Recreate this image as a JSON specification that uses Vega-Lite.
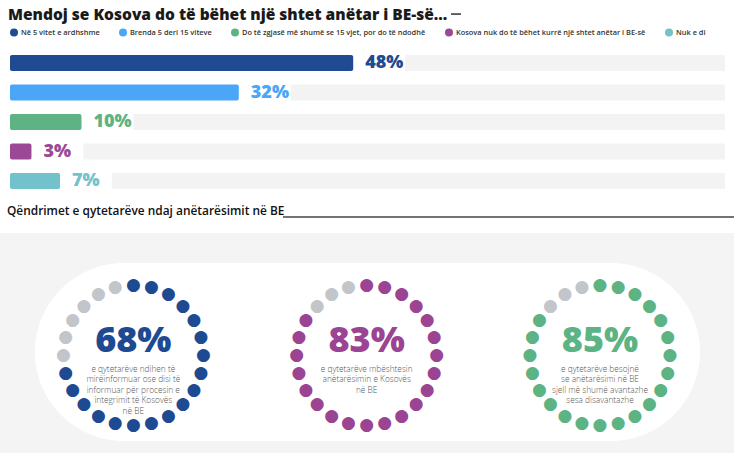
{
  "$schema": "https://vega.github.io/schema/vega-lite/v6.json",
  "width": 734,
  "height": 453,
  "autosize": {"type": "fit", "contains": "padding"},
  "padding": 0,
  "background": "white",
  "config": {"view": {"stroke": null}, "font": "Open Sans"},
  "datasets": {
    "bars": [
      {"answer": "Në 5 vitet e ardhshme", "share": 0.48},
      {"answer": "Brenda 5 deri 15 viteve", "share": 0.32},
      {"answer": "Do të zgjasë më shumë se 15 vjet, por do të ndodhë", "share": 0.10},
      {"answer": "Kosova nuk do të bëhet kurrë një shtet anëtar i BE-së", "share": 0.03},
      {"answer": "Nuk e di", "share": 0.07}
    ],
    "stats": [
      {"stat": "informed", "pct": 0.68, "desc": ["e qytetarëve ndihen të", "mirëinformuar ose disi të", "informuar për procesin e", "integrimit të Kosovës", "në BE"]},
      {"stat": "support", "pct": 0.83, "desc": ["e qytetarëve mbështesin", "anëtarësimin e Kosovës", "në BE"]},
      {"stat": "advantages", "pct": 0.85, "desc": ["e qytetarëve besojnë", "se anëtarësimi në BE", "sjell më shumë avantazhe", "sesa disavantazhe"]}
    ],
    "dots": [
      {"stat": "informed", "i": 0, "state": "filled"}, {"stat": "informed", "i": 1, "state": "filled"}, {"stat": "informed", "i": 2, "state": "filled"}, {"stat": "informed", "i": 3, "state": "filled"},
      {"stat": "informed", "i": 4, "state": "filled"}, {"stat": "informed", "i": 5, "state": "filled"}, {"stat": "informed", "i": 6, "state": "filled"}, {"stat": "informed", "i": 7, "state": "filled"},
      {"stat": "informed", "i": 8, "state": "filled"}, {"stat": "informed", "i": 9, "state": "filled"}, {"stat": "informed", "i": 10, "state": "filled"}, {"stat": "informed", "i": 11, "state": "filled"},
      {"stat": "informed", "i": 12, "state": "filled"}, {"stat": "informed", "i": 13, "state": "filled"}, {"stat": "informed", "i": 14, "state": "filled"}, {"stat": "informed", "i": 15, "state": "filled"},
      {"stat": "informed", "i": 16, "state": "filled"}, {"stat": "informed", "i": 17, "state": "partial"}, {"stat": "informed", "i": 18, "state": "empty"}, {"stat": "informed", "i": 19, "state": "empty"},
      {"stat": "informed", "i": 20, "state": "empty"}, {"stat": "informed", "i": 21, "state": "empty"}, {"stat": "informed", "i": 22, "state": "empty"}, {"stat": "informed", "i": 23, "state": "empty"},
      {"stat": "support", "i": 0, "state": "filled"}, {"stat": "support", "i": 1, "state": "filled"}, {"stat": "support", "i": 2, "state": "filled"}, {"stat": "support", "i": 3, "state": "filled"},
      {"stat": "support", "i": 4, "state": "filled"}, {"stat": "support", "i": 5, "state": "filled"}, {"stat": "support", "i": 6, "state": "filled"}, {"stat": "support", "i": 7, "state": "filled"},
      {"stat": "support", "i": 8, "state": "filled"}, {"stat": "support", "i": 9, "state": "filled"}, {"stat": "support", "i": 10, "state": "filled"}, {"stat": "support", "i": 11, "state": "filled"},
      {"stat": "support", "i": 12, "state": "filled"}, {"stat": "support", "i": 13, "state": "filled"}, {"stat": "support", "i": 14, "state": "filled"}, {"stat": "support", "i": 15, "state": "filled"},
      {"stat": "support", "i": 16, "state": "filled"}, {"stat": "support", "i": 17, "state": "filled"}, {"stat": "support", "i": 18, "state": "filled"}, {"stat": "support", "i": 19, "state": "filled"},
      {"stat": "support", "i": 20, "state": "partial"}, {"stat": "support", "i": 21, "state": "empty"}, {"stat": "support", "i": 22, "state": "empty"}, {"stat": "support", "i": 23, "state": "empty"},
      {"stat": "advantages", "i": 0, "state": "filled"}, {"stat": "advantages", "i": 1, "state": "filled"}, {"stat": "advantages", "i": 2, "state": "filled"}, {"stat": "advantages", "i": 3, "state": "filled"},
      {"stat": "advantages", "i": 4, "state": "filled"}, {"stat": "advantages", "i": 5, "state": "filled"}, {"stat": "advantages", "i": 6, "state": "filled"}, {"stat": "advantages", "i": 7, "state": "filled"},
      {"stat": "advantages", "i": 8, "state": "filled"}, {"stat": "advantages", "i": 9, "state": "filled"}, {"stat": "advantages", "i": 10, "state": "filled"}, {"stat": "advantages", "i": 11, "state": "filled"},
      {"stat": "advantages", "i": 12, "state": "filled"}, {"stat": "advantages", "i": 13, "state": "filled"}, {"stat": "advantages", "i": 14, "state": "filled"}, {"stat": "advantages", "i": 15, "state": "filled"},
      {"stat": "advantages", "i": 16, "state": "filled"}, {"stat": "advantages", "i": 17, "state": "filled"}, {"stat": "advantages", "i": 18, "state": "filled"}, {"stat": "advantages", "i": 19, "state": "filled"},
      {"stat": "advantages", "i": 20, "state": "filled"}, {"stat": "advantages", "i": 21, "state": "empty"}, {"stat": "advantages", "i": 22, "state": "empty"}, {"stat": "advantages", "i": 23, "state": "empty"}
    ]
  },
  "layer": [
    {
      "data": {"values": [{}]},
      "mark": {"type": "rect", "x": 0, "x2": 734, "y": 233, "y2": 453, "color": "#f4f4f4"},
      "encoding": {}
    },
    {
      "data": {"values": [{}]},
      "mark": {"type": "rect", "x": 35, "x2": 700, "y": 263, "y2": 441, "cornerRadius": 89, "color": "#ffffff"},
      "encoding": {}
    },
    {
      "data": {"values": [{}]},
      "mark": {"type": "text", "x": 8, "y": 19.5, "align": "left", "baseline": "alphabetic", "fontSize": 15.5, "fontWeight": 800, "color": "#1a1a1a", "font": "Open Sans"},
      "encoding": {"text": {"value": "Mendoj se Kosova do të bëhet një shtet anëtar i BE-së..."}}
    },
    {
      "data": {"values": [{}]},
      "mark": {"type": "rect", "x": 451, "x2": 461, "y": 13.3, "y2": 14.8, "color": "#333333"},
      "encoding": {}
    },
    {
      "data": {"values": [{}]},
      "mark": {"type": "text", "x": 7, "y": 215, "align": "left", "baseline": "alphabetic", "fontSize": 11.9, "fontWeight": 600, "color": "#111111", "font": "Open Sans"},
      "encoding": {"text": {"value": "Qëndrimet e qytetarëve ndaj anëtarësimit në BE"}}
    },
    {
      "data": {"values": [{}]},
      "mark": {"type": "rect", "x": 283, "x2": 734, "y": 216.3, "y2": 217.8, "color": "#444444"},
      "encoding": {}
    },
    {
      "data": {"name": "bars"},
      "encoding": {
        "y": {"field": "answer", "type": "nominal", "sort": null, "axis": null,
              "scale": {"domain": ["Në 5 vitet e ardhshme", "Brenda 5 deri 15 viteve", "Do të zgjasë më shumë se 15 vjet, por do të ndodhë", "Kosova nuk do të bëhet kurrë një shtet anëtar i BE-së", "Nuk e di"],
                        "range": [48.25, 195.75], "paddingInner": 0, "paddingOuter": 0}},
        "x": {"field": "share", "type": "quantitative", "axis": null, "scale": {"domain": [-0.013986, 1.0126], "nice": false}}
      },
      "layer": [
        {"mark": {"type": "bar", "height": 16, "color": "#f3f3f3", "xOffset": 52, "cornerRadius": 1}, "encoding": {"x2": {"datum": 1}}},
        {"mark": {"type": "bar", "height": 16, "cornerRadius": 2},
         "encoding": {"x2": {"datum": 0},
           "color": {"field": "answer", "type": "nominal",
             "scale": {"domain": ["Në 5 vitet e ardhshme", "Brenda 5 deri 15 viteve", "Do të zgjasë më shumë se 15 vjet, por do të ndodhë", "Kosova nuk do të bëhet kurrë një shtet anëtar i BE-së", "Nuk e di"],
                       "range": ["#1f4b92", "#4ba6f8", "#5db383", "#9b4897", "#72c2cc"]},
             "legend": {"title": null, "orient": "none", "legendX": 10, "legendY": 28.5, "direction": "horizontal",
                        "symbolType": "circle", "symbolSize": 64, "symbolStrokeWidth": 0, "symbolOpacity": 1,
                        "labelFont": "Open Sans", "labelFontSize": 7.4, "labelFontWeight": 600, "labelColor": "#333333",
                        "labelOffset": 3, "columnPadding": 19, "labelLimit": 400}}}},
        {"mark": {"type": "text", "dx": 12, "align": "left", "baseline": "middle", "fontSize": 18, "fontWeight": 800, "font": "Open Sans"},
         "encoding": {"text": {"field": "share", "type": "quantitative", "format": ".0%"},
           "color": {"field": "answer", "type": "nominal", "legend": null}}}
      ]
    },
    {
      "layer": [
        {
          "data": {"name": "dots"},
          "mark": {"type": "text", "radius": 70, "y": 355, "font": "DejaVu Sans", "fontSize": 17, "align": "center", "baseline": "middle"},
          "encoding": {
            "x": {"field": "stat", "type": "nominal", "axis": null, "scale": {"type": "point", "domain": ["informed", "support", "advantages"], "range": [133.3, 600], "padding": 0}},
            "theta": {"field": "i", "type": "quantitative", "scale": {"domain": [0, 24]}, "stack": null},
            "text": {"value": "●"},
            "color": {"condition": {"test": "datum.state === 'empty'", "value": "#c2c5ca"},
                      "field": "stat", "type": "nominal", "legend": null,
                      "scale": {"domain": ["informed", "support", "advantages"], "range": ["#1e4a91", "#9b4493", "#5cb383"]}}
          }
        },
        {
          "data": {"name": "stats"},
          "mark": {"type": "text", "y": 352, "fontSize": 36, "fontWeight": 800, "font": "Open Sans", "align": "center", "baseline": "alphabetic"},
          "encoding": {
            "x": {"field": "stat", "type": "nominal", "axis": null},
            "text": {"field": "pct", "type": "quantitative", "format": ".0%"},
            "color": {"field": "stat", "type": "nominal", "legend": null}
          }
        },
        {
          "data": {"name": "stats"},
          "mark": {"type": "text", "y": 371.5, "fontSize": 8.3, "fontWeight": 300, "font": "Open Sans", "color": "#555555", "lineHeight": 10.5, "align": "center", "baseline": "alphabetic"},
          "encoding": {
            "x": {"field": "stat", "type": "nominal", "axis": null},
            "text": {"field": "desc", "type": "nominal"}
          }
        }
      ]
    }
  ],
  "resolve": {"scale": {"x": "independent", "y": "independent", "color": "independent", "theta": "independent"}}
}
